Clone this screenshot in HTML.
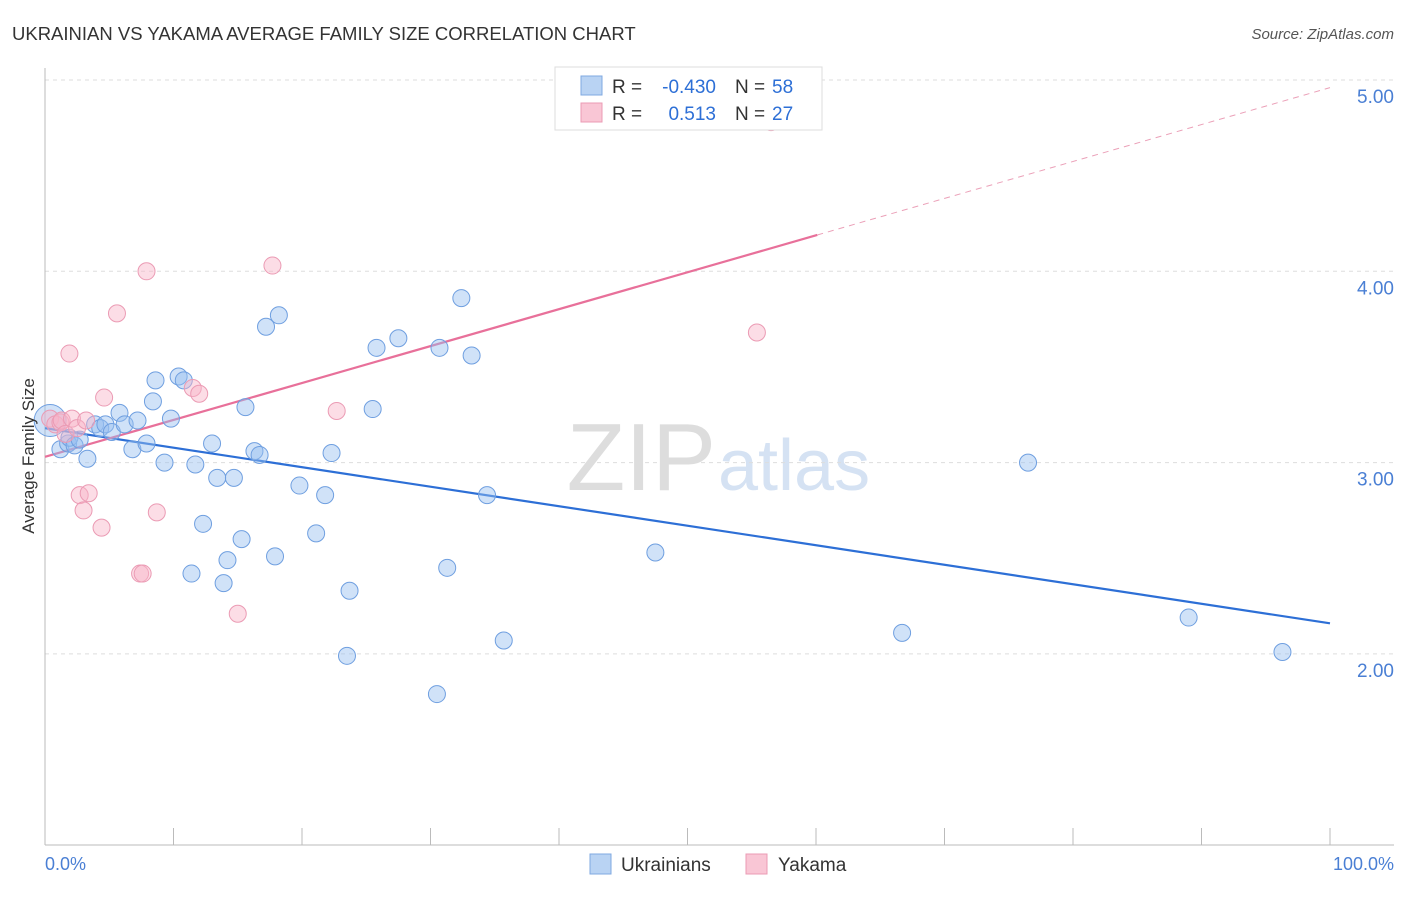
<!DOCTYPE html>
<html><head><meta charset="utf-8"><style>
body{margin:0;background:#fff;font-family:"Liberation Sans",sans-serif;}
svg text{font-family:"Liberation Sans",sans-serif;}
</style></head><body>
<svg id="chart" width="1406" height="892" xmlns="http://www.w3.org/2000/svg">
<text x="12" y="40" font-size="18.5" fill="#333">UKRAINIAN VS YAKAMA AVERAGE FAMILY SIZE CORRELATION CHART</text>
<text x="1394" y="39" font-size="15" fill="#555" font-style="italic" text-anchor="end">Source: ZipAtlas.com</text>
<text x="716" y="490" font-size="96" fill="#ddd" text-anchor="end" font-family="Liberation Serif">ZIP</text>
<text x="718" y="490" font-size="72" fill="#d5e2f3">atlas</text>
<g id="grid"></g><g id="axes"></g><g id="trend"></g><g id="pts"></g>
<text x="34" y="456" font-size="17" fill="#333" text-anchor="middle" transform="rotate(-90 34 456)">Average Family Size</text>
<text x="45" y="870" font-size="18" fill="#4a7fd4">0.0%</text>
<text x="1394" y="870" font-size="18" fill="#4a7fd4" text-anchor="end">100.0%</text>
<g>
<rect x="555" y="67" width="267" height="63" fill="#fff" stroke="#ddd"/>
<rect x="581" y="76" width="21" height="19" fill="#b9d3f3" stroke="#7fa8e0"/>
<rect x="581" y="103" width="21" height="19" fill="#f9c6d5" stroke="#eb9bb4"/>
<text x="612" y="93" font-size="19" fill="#333">R =</text>
<text x="716" y="93" font-size="19" fill="#2d6fd6" text-anchor="end">-0.430</text>
<text x="735" y="93" font-size="19" fill="#333">N =</text>
<text x="772" y="93" font-size="19" fill="#2d6fd6">58</text>
<text x="612" y="120" font-size="19" fill="#333">R =</text>
<text x="716" y="120" font-size="19" fill="#2d6fd6" text-anchor="end">0.513</text>
<text x="735" y="120" font-size="19" fill="#333">N =</text>
<text x="772" y="120" font-size="19" fill="#2d6fd6">27</text>
</g>
<g>
<rect x="590" y="854" width="21" height="20" fill="#b9d3f3" stroke="#7fa8e0"/>
<text x="621" y="871" font-size="19" fill="#333">Ukrainians</text>
<rect x="746" y="854" width="21" height="20" fill="#f9c6d5" stroke="#eb9bb4"/>
<text x="778" y="871" font-size="19" fill="#333">Yakama</text>
</g>
</svg>
<script>
const yTicks=[2,3,4,5];
const yTickLabels=["2.00","3.00","4.00","5.00"];
const blueX=[0.4,1.2,1.8,1.9,2.3,2.7,3.3,3.9,4.3,4.7,5.2,5.8,6.2,6.8,7.2,7.9,8.4,8.6,9.3,9.8,10.4,10.8,11.4,11.7,12.3,13.0,13.4,13.9,14.2,14.7,15.3,15.6,16.3,16.7,17.2,17.9,18.2,19.8,21.1,21.8,22.3,23.5,23.7,25.5,25.8,27.5,30.5,30.7,31.3,32.4,33.2,34.4,35.7,47.5,66.7,76.5,89.0,96.3];
const blueY=[3.22,3.07,3.10,3.13,3.09,3.12,3.02,3.20,3.18,3.20,3.16,3.26,3.20,3.07,3.22,3.10,3.32,3.43,3.00,3.23,3.45,3.43,2.42,2.99,2.68,3.10,2.92,2.37,2.49,2.92,2.60,3.29,3.06,3.04,3.71,2.51,3.77,2.88,2.63,2.83,3.05,1.99,2.33,3.28,3.60,3.65,1.79,3.60,2.45,3.86,3.56,2.83,2.07,2.53,2.11,3.00,2.19,2.01];
const pinkX=[0.4,0.8,1.2,1.3,1.6,1.9,2.1,2.5,2.7,3.0,3.2,3.4,4.4,4.6,5.6,7.4,7.6,7.9,8.7,11.5,12.0,15.0,17.7,22.7,55.4,56.5];
const pinkY=[3.23,3.20,3.21,3.22,3.15,3.57,3.23,3.18,2.83,2.75,3.22,2.84,2.66,3.34,3.78,2.42,2.42,4.00,2.74,3.39,3.36,2.21,4.03,3.27,3.68,4.78];
const blueTrend=[3.18,2.16];
const pinkTrend=[3.03,4.96];
const pinkSolidEnd=60.1;
const NS="http://www.w3.org/2000/svg";
const X=v=>45+v*12.85, Y=v=>80+(5-v)*191.3;
function mk(tag,a,parent){const e=document.createElementNS(NS,tag);for(const k in a)e.setAttribute(k,a[k]);document.getElementById(parent).appendChild(e);return e;}
yTicks.forEach((t,i)=>{
 const l=mk('line',{x1:45,x2:1394,y1:Y(t),y2:Y(t),stroke:'#ddd','stroke-dasharray':'4,4'},'grid');
 
 
 const tx=mk('text',{x:1394,y:Y(t)+23,'font-size':19,fill:'#4a7fd4','text-anchor':'end'},'grid');
 tx.textContent=yTickLabels[i];
 
 
});
let ax=mk('line',{x1:45,x2:45,y1:68,y2:845,stroke:'#bbb'},'axes');


ax=mk('line',{x1:45,x2:1394,y1:845,y2:845,stroke:'#bbb'},'axes');


for(let i=0;i<=10;i++){const t=mk('line',{x1:X(i*10),x2:X(i*10),y1:828,y2:845,stroke:'#bbb'},'axes');
 
 }
let tl=mk('line',{x1:X(0),y1:Y(blueTrend[0]),x2:X(100),y2:Y(blueTrend[1]),stroke:'#2d6fd6','stroke-width':2.2},'trend');


const pm=(pinkTrend[1]-pinkTrend[0])/100;
tl=mk('line',{x1:X(0),y1:Y(pinkTrend[0]),x2:X(pinkSolidEnd),y2:Y(pinkTrend[0]+pm*pinkSolidEnd),stroke:'#e8709a','stroke-width':2.2},'trend');


tl=mk('line',{x1:X(pinkSolidEnd),y1:Y(pinkTrend[0]+pm*pinkSolidEnd),x2:X(100),y2:Y(pinkTrend[1]),stroke:'#eba0b8','stroke-width':1,'stroke-dasharray':'6,5'},'trend');


blueX.forEach((x,i)=>{const c=mk('circle',{cx:X(x),cy:Y(blueY[i]),r:i===0?16:8.5,fill:'rgba(150,190,240,0.45)',stroke:'#6f9fe0','stroke-width':1},'pts');
 
 });
pinkX.forEach((x,i)=>{const c=mk('circle',{cx:X(x),cy:Y(pinkY[i]),r:8.5,fill:'rgba(248,180,200,0.45)',stroke:'#eb9bb4','stroke-width':1},'pts');
 
 });
</script>
</body></html>
